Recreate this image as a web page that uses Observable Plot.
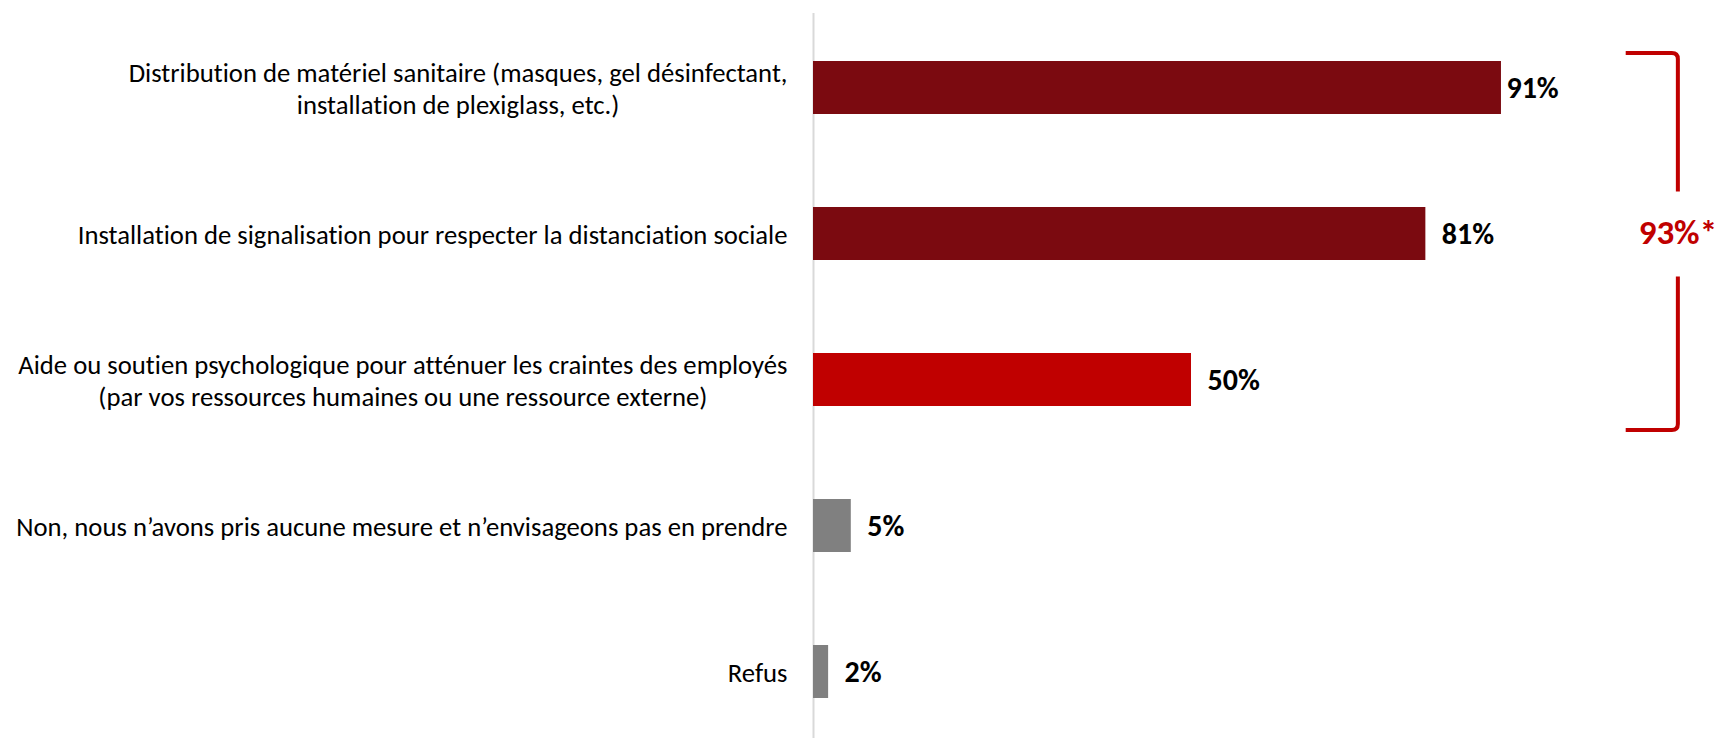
<!DOCTYPE html>
<html><head><meta charset="utf-8">
<script src="https://cdn.jsdelivr.net/npm/d3@7"></script>
<script src="https://cdn.jsdelivr.net/npm/@observablehq/plot@0.6"></script>
<style>
html,body{margin:0;padding:0;background:#fff;}
#chart svg{display:block;font-variant-ligatures:none;}
</style>
</head><body>
<div id="chart"></div>
<script>
// ---- data ----
const categories = [
  "Distribution de matériel sanitaire (masques, gel désinfectant,\ninstallation de plexiglass, etc.)",
  "Installation de signalisation pour respecter la distanciation sociale",
  "Aide ou soutien psychologique pour atténuer les craintes des employés\n(par vos ressources humaines ou une ressource externe)",
  "Non, nous n’avons pris aucune mesure et n’envisageons pas en prendre",
  "Refus"
];
const values = [91, 81, 50, 5, 2];
const groups = ["mesure", "mesure", "soutien", "aucune", "aucune"];
const groupDomain = ["mesure", "soutien", "aucune"];
const groupColors = ["#7B0A10", "#C00000", "#808080"];
const bracketLabel = "93%*";
const bracketFrom = 0, bracketTo = 2;

(function () {
const FONT = "Carlito, Calibri, Lato, sans-serif";
const data = categories.map((c, i) => ({cat: c, value: values[i], group: groups[i]}));

const plot = Plot.plot({
  width: 1719,
  height: 738,
  marginLeft: 813,
  marginRight: 150,
  marginTop: 45,
  marginBottom: 25,
  style: {fontFamily: FONT, background: "#fff"},
  x: {domain: [0, 100], axis: null},
  y: {domain: categories, paddingInner: 0.638, paddingOuter: 0.1, label: null},
  color: {domain: groupDomain, range: groupColors},
  marks: [
    Plot.ruleX([0], {stroke: "#D9D9D9", strokeWidth: 2, insetTop: -32, insetBottom: -25}),
    Plot.barX(data, {x: "value", y: "cat", fill: "group"}),
    Plot.axisY({tickSize: 0, tickPadding: 26, fontSize: 26.7, lineHeight: 1.2, fill: "#000", label: null, fontFamily: FONT}),
    Plot.text(data, {filter: d => d.value >= 90, x: "value", y: "cat", text: d => d.value + "%", textAnchor: "start", dx: 5, fontSize: 30, fontWeight: "bold", fill: "#000"}),
    Plot.text(data, {filter: d => d.value < 90, x: "value", y: "cat", text: d => d.value + "%", textAnchor: "start", dx: 16, fontSize: 30, fontWeight: "bold", fill: "#000"})
  ]
});
document.getElementById("chart").appendChild(plot);

// center multi-line category labels
d3.select(plot).selectAll('g[aria-label="y-axis tick label"] text').each(function() {
  const tspans = this.querySelectorAll("tspan");
  if (tspans.length < 2) return;
  let w = 0;
  tspans.forEach(t => { w = Math.max(w, t.getComputedTextLength()); });
  this.setAttribute("text-anchor", "middle");
  tspans.forEach(t => t.setAttribute("x", -w / 2));
});

// bracket annotation using the plot's scales
const xs = plot.scale("x"), ys = plot.scale("y");
const bw = ys.bandwidth;
const bx = xs.apply(114.4), armX = xs.apply(107.5);
const yTop = ys.apply(categories[bracketFrom]) - 8;
const yBot = ys.apply(categories[bracketTo]) + bw + 24;
const midY = ys.apply(categories[1]) + bw / 2 - 2;
const r = 6;
const svg = d3.select(plot);
const g = svg.append("g").attr("fill", "none").attr("stroke", "#C00000").attr("stroke-width", 4);
g.append("path").attr("d", `M${armX},${yTop} L${bx - r},${yTop} Q${bx},${yTop} ${bx},${yTop + r} L${bx},${midY - 40}`);
g.append("path").attr("d", `M${bx},${midY + 45} L${bx},${yBot - r} Q${bx},${yBot} ${bx - r},${yBot} L${armX},${yBot}`);
svg.append("text").attr("x", bx).attr("y", midY).attr("dy", "0.35em").attr("text-anchor", "middle")
  .attr("fill", "#C00000").attr("font-weight", "bold").attr("font-size", 35).attr("font-family", FONT)
  .text(bracketLabel);
})();
</script>
</body></html>
